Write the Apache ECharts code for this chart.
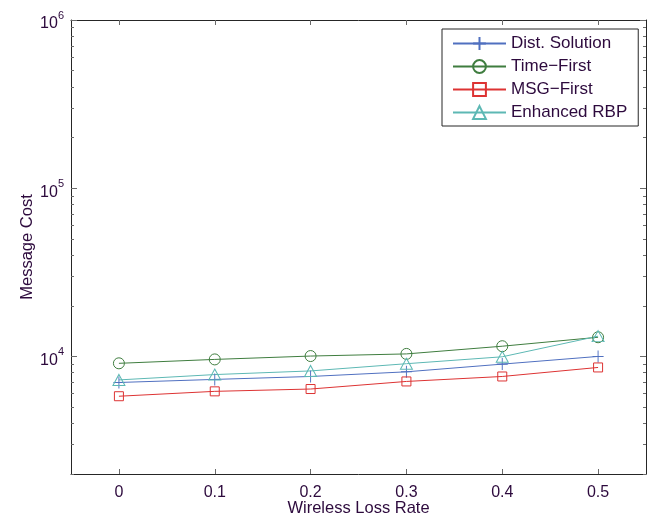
<!DOCTYPE html>
<html>
<head>
<meta charset="utf-8">
<script src="https://cdn.jsdelivr.net/npm/echarts@6/dist/echarts.min.js"></script>
<style>html,body{margin:0;padding:0;background:#fff}#c{width:664px;height:521px}</style>
</head>
<body>
<div id="c"></div>
<script>
var xValues = [0, 0.1, 0.2, 0.3, 0.4, 0.5];
var xTicks = [0, 0.1, 0.2, 0.3, 0.4, 0.5];
var yMajorTicks = [10000, 100000, 1000000];
var yMinorTicks = [2000,3000,4000,5000,6000,7000,8000,9000,20000,30000,40000,50000,60000,70000,80000,90000,200000,300000,400000,500000,600000,700000,800000,900000];
var seriesNames = ['Dist. Solution', 'Time\u2212First', 'MSG\u2212First', 'Enhanced RBP'];
var distSolution = [7000, 7300, 7600, 8100, 9000, 10000];
var timeFirst = [9100, 9600, 10050, 10350, 11500, 13000];
var msgFirst = [5800, 6200, 6400, 7100, 7600, 8600];
var enhancedRBP = [7250, 7800, 8200, 9050, 9950, 13200];

var textColor = '#2d0a3d';
var fontFamily = 'Liberation Sans, Arial, sans-serif';
var colors = ['#5070c0', '#3f7d3f', '#dd3333', '#5db8b4'];
var symbols = ['path://M5,0L5,10M0,5L10,5', 'circle', 'rect', 'triangle'];
var symbolSizes = [[11, 12], 11, 9, [12, 11]];
function pairs(vals) { return xValues.map(function (x, i) { return [x, vals[i]]; }); }
var allData = [distSolution, timeFirst, msgFirst, enhancedRBP];

function yAxisDef(pos, ticks, len, showLabel, showLine, name) {
  var a = {
    type: 'log', logBase: 10, min: 2000, max: 1000000, position: pos,
    axisLine: { show: showLine, onZero: false, lineStyle: { color: '#262626', width: 1 } },
    axisTick: { show: true, inside: true, length: len, customValues: ticks, lineStyle: { color: '#6a6a6a', width: 1 } },
    axisLabel: { show: showLabel, customValues: ticks, margin: 7, color: textColor, fontFamily: fontFamily,
      formatter: function (v) { return '{b|10}{s|' + Math.round(Math.log10(v)) + '}'; },
      rich: {
        b: { fontSize: 16, fontFamily: fontFamily, color: textColor, lineHeight: 20, verticalAlign: 'bottom', padding: [0, 0, -2, 0] },
        s: { fontSize: 11, fontFamily: fontFamily, color: textColor, lineHeight: 20, verticalAlign: 'top', padding: [0, 0, 10, 0] }
      }
    },
    splitLine: { show: false }
  };
  if (name) { a.name = name; a.nameLocation = 'middle'; a.nameGap = 35; a.nameMoveOverlap = false; a.nameTextStyle = { color: textColor, fontSize: 16.5, fontFamily: fontFamily }; }
  return a;
}
function xAxisDef(pos, showLabel, name) {
  var a = {
    type: 'value', min: -0.05, max: 0.55, position: pos,
    axisLine: { show: true, onZero: false, lineStyle: { color: '#262626', width: 1 } },
    axisTick: { show: true, inside: true, length: 5, customValues: xTicks, lineStyle: { color: '#6a6a6a', width: 1 } },
    axisLabel: { show: showLabel, customValues: xTicks, margin: 11, color: textColor, fontSize: 16, fontFamily: fontFamily,
      formatter: function (v) { return String(Math.round(v * 10) / 10); } },
    splitLine: { show: false }
  };
  if (name) { a.name = name; a.nameLocation = 'middle'; a.nameGap = 26; a.nameMoveOverlap = false; a.nameTextStyle = { color: textColor, fontSize: 16.5, fontFamily: fontFamily }; }
  return a;
}

function legendDef(variant) {
  var l = {
    orient: 'vertical', left: 442, top: 29,
    padding: [6, 11, 5, 10],
    itemWidth: 53, itemHeight: 16, itemGap: 6,
    backgroundColor: '#ffffff', borderColor: '#262626', borderWidth: 1, borderRadius: 0,
    textStyle: { color: textColor, fontSize: 17, fontFamily: fontFamily, lineHeight: 16 },
    data: seriesNames
  };
  if (variant >= 2) { delete l.backgroundColor; delete l.borderRadius; }
  if (variant >= 3) { delete l.textStyle.lineHeight; l.itemHeight = 14; l.itemGap = 8; }
  if (variant >= 4) { delete l.borderColor; delete l.borderWidth; delete l.padding; l.left = 452; l.top = 35; }
  if (variant >= 5) { return { orient: 'vertical', right: 20, top: 25 }; }
  return l;
}

function buildOption(variant) {
  return {
    animation: false,
    grid: { left: 71, top: 20, right: 18, bottom: 47, containLabel: false, outerBoundsMode: 'none' },
    xAxis: [xAxisDef('bottom', true, 'Wireless Loss Rate'), xAxisDef('top', false, null)],
    yAxis: [yAxisDef('left', yMajorTicks, 6, true, true, 'Message Cost'), yAxisDef('left', yMinorTicks, 3, false, false, null), yAxisDef('right', yMajorTicks, 6, false, true, null), yAxisDef('right', yMinorTicks, 3, false, false, null)],
    legend: legendDef(variant),
    series: seriesNames.map(function (n, i) {
      return { name: n, type: 'line', data: pairs(allData[i]), symbol: symbols[i], symbolSize: symbolSizes[i],
        lineStyle: { color: colors[i], width: 1 }, itemStyle: { color: 'rgba(255,255,255,0)', borderColor: colors[i], borderWidth: 1 } };
    })
  };
}

var chart = echarts.init(document.getElementById('c'));

function rightFramePainted() {
  try {
    var zr = chart.getZr();
    zr.storage.getDisplayList(true);
    zr.refreshImmediately();
    var cv = document.querySelector('#c canvas');
    var ctx = cv.getContext('2d');
    var hits = 0;
    [150, 250, 300].forEach(function (y) {
      var d = ctx.getImageData(640, y, 12, 1).data;
      for (var i = 0; i < d.length; i += 4) {
        if (d[i + 3] > 100 && d[i] + d[i + 1] + d[i + 2] < 450) { hits++; break; }
      }
    });
    return hits >= 2;
  } catch (e) { return true; }
}

var done = false;
for (var v = 1; v <= 4 && !done; v++) {
  chart.setOption(buildOption(v), true);
  done = rightFramePainted();
}
if (!done) {
  chart.setOption(buildOption(1), true);
  chart.getZr().refreshImmediately();
}
</script>
</body>
</html>
